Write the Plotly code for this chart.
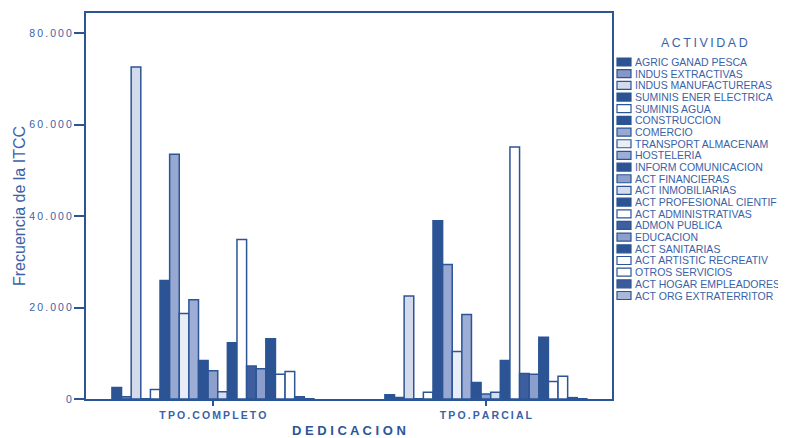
import plotly.graph_objects as go

# ---------------- data ----------------
categories = ["TPO.COMPLETO", "TPO.PARCIAL"]
category_labels = ["T\u2009P\u2009O\u2009.\u2009C\u2009O\u2009M\u2009P\u2009L\u2009E\u2009T\u2009O",
                   "T\u2009P\u2009O\u2009.\u2009P\u2009A\u2009R\u2009C\u2009I\u2009A\u2009L"]

actividades = [
    "AGRIC GANAD PESCA", "INDUS EXTRACTIVAS", "INDUS MANUFACTURERAS",
    "SUMINIS ENER ELECTRICA", "SUMINIS AGUA", "CONSTRUCCION", "COMERCIO",
    "TRANSPORT ALMACENAM", "HOSTELERIA", "INFORM COMUNICACION",
    "ACT FINANCIERAS", "ACT INMOBILIARIAS", "ACT PROFESIONAL CIENTIF",
    "ACT ADMINISTRATIVAS", "ADMON PUBLICA", "EDUCACION", "ACT SANITARIAS",
    "ACT ARTISTIC RECREATIV", "OTROS SERVICIOS", "ACT HOGAR EMPLEADORES",
    "ACT ORG EXTRATERRITOR",
]

tpo_completo = [2500, 500, 72600, 50, 2100, 25900, 53500, 18700, 21700, 8400,
                6200, 1600, 12300, 34850, 7200, 6600, 13200, 5400, 6000, 500, 50]
tpo_parcial = [950, 350, 22500, 50, 1450, 39000, 29400, 10400, 18500, 3600,
               1100, 1450, 8400, 55100, 5600, 5400, 13500, 3800, 5000, 300, 50]

y_tickvals = [0, 20000, 40000, 60000, 80000]
y_ticktext = ["0", "2\u20090\u2009.\u20090\u20090\u20090", "4\u20090\u2009.\u20090\u20090\u20090",
              "6\u20090\u2009.\u20090\u20090\u20090", "8\u20090\u2009.\u20090\u20090\u20090"]

# ---------------- style ----------------
BLUE = "#2C5596"
TEXT = "#3A62A8"
colors = ["#2C5494", "#8497C8", "#D3DAEC", "#2C5494", "#FFFFFF", "#2C5494",
          "#97A8D2", "#E9EDF6", "#9DADD5", "#2C5494", "#8E9FCC", "#D6DDEE",
          "#2C5494", "#FFFFFF", "#3D5F9F", "#8C9ECB", "#2C5494", "#FFFFFF",
          "#FFFFFF", "#3A5C9C", "#A9B7DA"]
FONT = "Liberation Sans, Arial, sans-serif"

fig = go.Figure()
for i, name in enumerate(actividades):
    fig.add_trace(go.Bar(
        x=categories, y=[tpo_completo[i], tpo_parcial[i]], name=name,
        marker=dict(color=colors[i], line=dict(color=BLUE, width=1.5)),
        showlegend=False,
    ))

# geometry (the page body adds an 8px offset)
OFF = 8
W, H = 786 - OFF, 438 - OFF
L, R, T, B = 86 - OFF, 174, 13 - OFF, 39
pw, ph = W - L - R, H - T - B

def px2paper_x(px):  # px in screen coordinates
    return (px - OFF - L) / pw

def px2paper_y(py):
    return (H - B - (py - OFF)) / ph

# custom legend
shapes = []
annotations = []
y0 = 62.0
step = 11.675
for i, name in enumerate(actividades):
    cy = y0 + i * step
    shapes.append(dict(type="rect", xref="paper", yref="paper",
                       x0=px2paper_x(617), x1=px2paper_x(631),
                       y0=px2paper_y(cy + 4), y1=px2paper_y(cy - 4),
                       fillcolor=colors[i], line=dict(color=BLUE, width=1.2)))
    annotations.append(dict(xref="paper", yref="paper", x=px2paper_x(634),
                            y=px2paper_y(cy), text=name, showarrow=False,
                            xanchor="left", yanchor="middle", borderpad=0,
                            font=dict(family=FONT, size=10.5, color=TEXT)))
annotations.append(dict(xref="paper", yref="paper", x=px2paper_x(704),
                        y=px2paper_y(43), text="A\u2009C\u2009T\u2009I\u2009V\u2009I\u2009D\u2009A\u2009D",
                        showarrow=False, xanchor="center", yanchor="middle",
                        font=dict(family=FONT, size=12.5, color=TEXT)))

fig.update_layout(
    width=W, height=H,
    margin=dict(l=L, r=R, t=T, b=B, pad=0, autoexpand=False),
    paper_bgcolor="white", plot_bgcolor="white",
    barmode="group", bargap=0.26, bargroupgap=0,
    font=dict(family=FONT, color=TEXT),
    shapes=shapes, annotations=annotations,
    xaxis=dict(
        type="category", range=[-0.465, 1.462], automargin=False,
        tickvals=categories, ticktext=category_labels,
        tickfont=dict(family=FONT, size=10.5, color=TEXT, weight="bold"),
        ticks="outside", ticklen=5, tickcolor=BLUE, tickwidth=1.5,
        showline=True, linecolor=BLUE, linewidth=2, mirror=True,
        showgrid=False, zeroline=False,
        title=dict(text="D E D I C A C I O N", standoff=8,
                   font=dict(family=FONT, size=13, color=BLUE, weight="bold")),
    ),
    yaxis=dict(
        range=[0, 84400], automargin=False,
        tickvals=y_tickvals, ticktext=y_ticktext,
        tickfont=dict(family=FONT, size=10.5, color=TEXT),
        ticks="outside", ticklen=10, tickcolor=BLUE, tickwidth=1.5,
        showline=True, linecolor=BLUE, linewidth=2, mirror=True,
        showgrid=False, zeroline=False,
        title=dict(text="Frecuencia de la ITCC", standoff=0,
                   font=dict(family=FONT, size=16, color=TEXT)),
    ),
)

fig.write_html("out.html")
